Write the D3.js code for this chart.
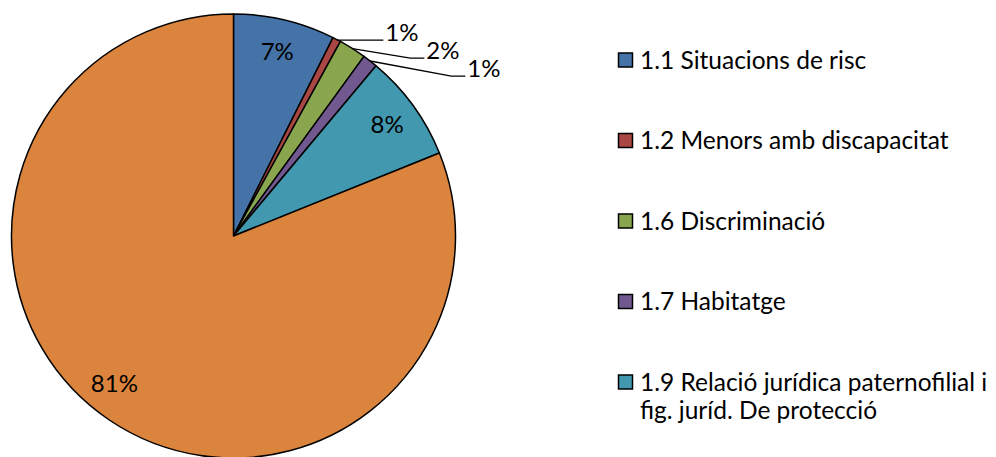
<!DOCTYPE html>
<html>
<head>
<meta charset="utf-8">
<script src="https://cdn.jsdelivr.net/npm/d3@7"></script>
<style>
  body { margin: 0; background: #fff; }
  svg { display: block; font-family: Lato, "Open Sans", sans-serif; }
</style>
</head>
<body>
<div id="chart"></div>
<script>
// chart data
const categories = [
  "1.1 Situacions de risc",
  "1.2 Menors amb discapacitat",
  "1.6 Discriminació",
  "1.7 Habitatge",
  "1.9 Relació jurídica paternofilial i fig. juríd. De protecció",
  "Altres"
]
const values = [7.4, 0.6, 2.0, 1.1, 7.8, 81.1]
const colors = ["#4572A7", "#AA4643", "#89A54E", "#71588F", "#4198AF", "#DB843D"]
const legendLines = [
  ["1.1 Situacions de risc"],
  ["1.2 Menors amb discapacitat"],
  ["1.6 Discriminació"],
  ["1.7 Habitatge"],
  ["1.9 Relació jurídica paternofilial i", "fig. juríd. De protecció"]
]

const width = 996
const height = 457
const cx = 233.5
const cy = 236
const radius = 222
const fontSize = 24.5
const labelSize = 24

const svg = d3.select("#chart")
  .append("svg")
  .attr("width", width)
  .attr("height", height)

const total = d3.sum(values)
const data = categories.map((c, i) => ({ name: c, value: values[i], color: colors[i] }))

const pie = d3.pie().value(d => d.value).sort(null)
const arcs = pie(data)

const arc = d3.arc().innerRadius(0).outerRadius(radius)
const labelArc = d3.arc().innerRadius(radius * 0.855).outerRadius(radius * 0.855)
const edgeArc = d3.arc().innerRadius(radius).outerRadius(radius)

const g = svg.append("g").attr("transform", `translate(${cx},${cy})`)

g.selectAll("path.slice")
  .data(arcs)
  .enter()
  .append("path")
    .classed("slice", true)
    .attr("d", arc)
    .attr("fill", d => d.data.color)
    .attr("stroke", "#000")
    .attr("stroke-width", 1.5)
    .attr("stroke-linejoin", "round")

const pct = d => `${Math.round(d.value / total * 100)}%`

// big slices: labels inside (largest one sits a bit further round, like excel)
const inside = arcs.filter(d => d.value / total >= 0.05)
g.selectAll("text.inside")
  .data(inside)
  .enter()
  .append("text")
    .classed("inside", true)
    .attr("transform", d => {
      let shift = d.value / total > 0.5 ? 0.085 : 0
      let a = (d.startAngle + d.endAngle) / 2 + shift
      let r = radius * 0.855
      return `translate(${Math.sin(a) * r},${-Math.cos(a) * r})`
    })
    .attr("text-anchor", "middle")
    .attr("dy", "0.35em")
    .style("font-size", labelSize + "px")
    .attr("fill", "#000")
    .text(pct)

// small slices: labels outside with leader lines
const outside = arcs.filter(d => d.value / total < 0.05)
outside.forEach((d, k) => {
  const [sx, sy] = edgeArc.centroid(d)
  const ex = radius * 0.675 + k * 41
  const ey = -radius * 0.882 + k * 18
  const elbowX = k === 0 ? sx + 1 : ex - 14
  g.append("polyline")
    .attr("points", `${sx},${sy} ${elbowX},${ey} ${ex},${ey}`)
    .attr("fill", "none")
    .attr("stroke", "#000")
    .attr("stroke-width", 1.3)
  g.append("text")
    .attr("x", ex + 2)
    .attr("y", ey - 8)
    .attr("dy", "0.35em")
    .style("font-size", labelSize + "px")
    .text(pct(d))
})

// legend
const legend = svg.append("g").attr("transform", "translate(618,0)")
const rowY = d3.scaleLinear().domain([0, 1]).range([60, 140.5])

const items = legend.selectAll("g.item")
  .data(legendLines)
  .enter()
  .append("g")
    .classed("item", true)
    .attr("transform", (d, i) => `translate(0,${rowY(i)})`)

items.append("rect")
  .attr("x", 0.5)
  .attr("y", -7)
  .attr("width", 14)
  .attr("height", 14)
  .attr("fill", (d, i) => colors[i])
  .attr("stroke", "#000")
  .attr("stroke-width", 1.5)

items.append("text")
  .style("font-size", fontSize + "px")
  .attr("fill", "#000")
  .selectAll("tspan")
  .data(d => d)
  .enter()
  .append("tspan")
    .attr("x", 22)
    .attr("y", (d, i) => i * 28.5)
    .attr("dy", "0.35em")
    .text(d => d)
</script>
</body>
</html>
